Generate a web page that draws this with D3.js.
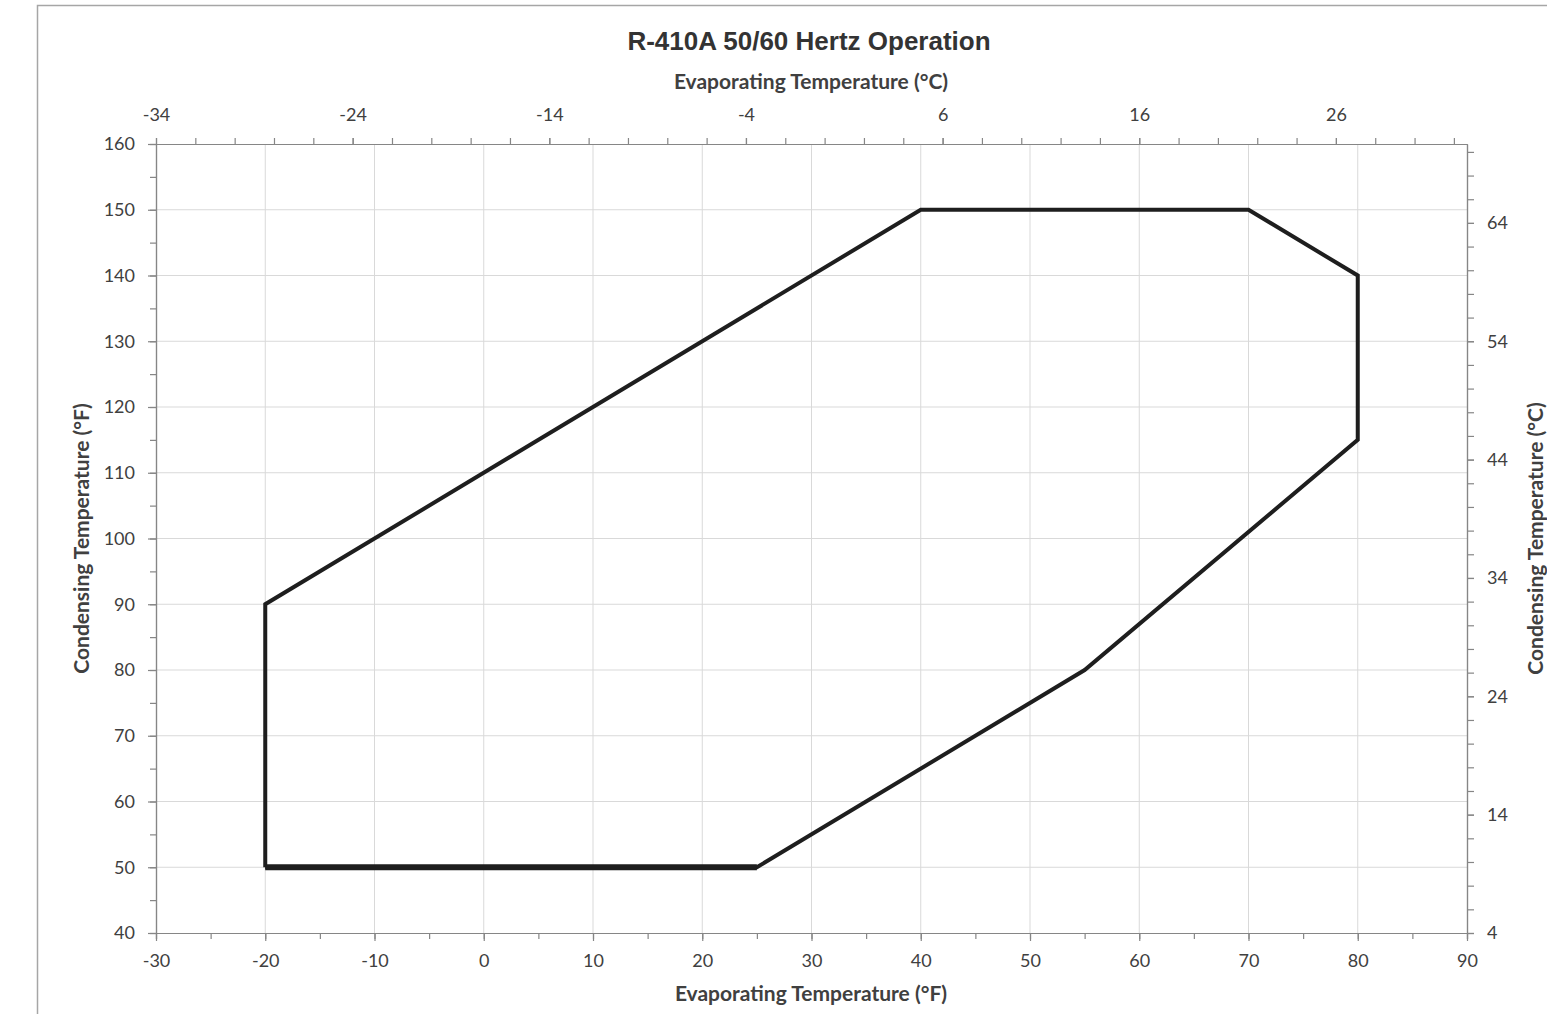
<!DOCTYPE html>
<html>
  <head>
    <meta charset="utf-8" />
    <script src="https://cdn.jsdelivr.net/npm/d3@7"></script>
    <style>
      body { margin: 0; background: #fff; }
      #master { width: 1547px; height: 1014px; }
      .grid line { stroke: #d9d9d9; stroke-width: 1; }
      .axis path, .axis line { stroke: #868686; stroke-width: 1.2; }
      .axis text { font-family: Lato, "Open Sans", sans-serif; font-size: 18px; fill: #404040; }
      .atitle { font-family: Lato, "Open Sans", sans-serif; font-size: 21px; font-weight: bold; fill: #404040; }
      .title { font-family: "Liberation Sans", Arial, sans-serif; font-size: 26px; font-weight: bold; fill: #333; }
    </style>
  </head>
  <body>
    <div id="master"></div>
    <script type="text/javascript">
var width = 1547, height = 1014;

// envelope corners, evaporating °F / condensing °F
var evapF = [-20, -20, 40, 70, 80, 80, 55, 25, -20];
var condF = [50, 90, 150, 150, 140, 115, 80, 50, 50];
// the floor at 50°F is drawn heavier in the original
var floorEvapF = [-20, 25];
var floorCondF = [50, 50];

var xTicksF = [-30, -20, -10, 0, 10, 20, 30, 40, 50, 60, 70, 80, 90];
var yTicksF = [40, 50, 60, 70, 80, 90, 100, 110, 120, 130, 140, 150, 160];
var xTicksC = [-34, -24, -14, -4, 6, 16, 26];
var yTicksC = [4, 14, 24, 34, 44, 54, 64];

// plot box (note: "top" is taken by window.top)
var pL = 156, pR = 1467, pT = 144, pB = 933;

var svg = d3.select("#master").append("svg")
  .attr("width", width)
  .attr("height", height);

// chart border
svg.append("path")
  .attr("d", "M37.5,1014 L37.5,5.5 L1547,5.5")
  .attr("fill", "none")
  .attr("stroke", "#a6a6a6")
  .attr("stroke-width", 1.5);

var x = d3.scaleLinear().domain([-30, 90]).range([pL, pR]);
var y = d3.scaleLinear().domain([40, 160]).range([pB, pT]);
// celsius axes cover the same span (120°F = 66.67°C), starting at -34 and 4
var xC = d3.scaleLinear().domain([-34, -34 + 120 * 5 / 9]).range([pL, pR]);
var yC = d3.scaleLinear().domain([4, 4 + 120 * 5 / 9]).range([pB, pT]);

var fmt = function(d) { return String(d); };  // plain hyphen minus like the original

var grid = svg.append("g").attr("class", "grid");
grid.selectAll(".v").data(xTicksF.slice(1, -1)).enter().append("line")
  .attr("x1", function(d) { return x(d); }).attr("x2", function(d) { return x(d); })
  .attr("y1", pT).attr("y2", pB);
grid.selectAll(".h").data(yTicksF.slice(1, -1)).enter().append("line")
  .attr("y1", function(d) { return y(d); }).attr("y2", function(d) { return y(d); })
  .attr("x1", pL).attr("x2", pR);

function minor(lo, hi, step) {
  var out = [];
  for (var v = lo; v <= hi + 1e-9; v += step) out.push(v);
  return out;
}

// minor ticks first, then labelled majors on top
svg.append("g").attr("class", "axis")
  .attr("transform", "translate(0," + pB + ")")
  .call(d3.axisBottom(x).tickValues(minor(-30, 90, 5)).tickSize(6).tickFormat(""));
svg.append("g").attr("class", "axis")
  .attr("transform", "translate(0," + pB + ")")
  .call(d3.axisBottom(x).tickValues(xTicksF).tickSize(8).tickPadding(13).tickSizeOuter(0).tickFormat(fmt));

svg.append("g").attr("class", "axis")
  .attr("transform", "translate(" + pL + ",0)")
  .call(d3.axisLeft(y).tickValues(minor(40, 160, 5)).tickSize(6).tickFormat(""));
svg.append("g").attr("class", "axis")
  .attr("transform", "translate(" + pL + ",0)")
  .call(d3.axisLeft(y).tickValues(yTicksF).tickSize(8).tickPadding(13).tickSizeOuter(0).tickFormat(fmt));

svg.append("g").attr("class", "axis")
  .attr("transform", "translate(0," + pT + ")")
  .call(d3.axisTop(xC).tickValues(minor(-34, 32, 2)).tickSize(6).tickSizeOuter(0).tickFormat(""));
svg.append("g").attr("class", "axis")
  .attr("transform", "translate(0," + pT + ")")
  .call(d3.axisTop(xC).tickValues(xTicksC).tickSize(6).tickPadding(17).tickSizeOuter(0).tickFormat(fmt));

svg.append("g").attr("class", "axis")
  .attr("transform", "translate(" + pR + ",0)")
  .call(d3.axisRight(yC).tickValues(minor(4, 70, 2)).tickSize(7).tickSizeOuter(0).tickFormat(""));
svg.append("g").attr("class", "axis")
  .attr("transform", "translate(" + pR + ",0)")
  .call(d3.axisRight(yC).tickValues(yTicksC).tickSize(7).tickPadding(13).tickSizeOuter(0).tickFormat(fmt));

var pts = evapF.map(function(d, i) { return [d, condF[i]]; });
var line = d3.line().x(function(d) { return x(d[0]); }).y(function(d) { return y(d[1]); });

svg.append("path")
  .datum(pts)
  .attr("d", line)
  .attr("fill", "none")
  .attr("stroke", "#1e1e1e")
  .attr("stroke-width", 4)
  .attr("stroke-linejoin", "miter");

svg.append("path")
  .datum(floorEvapF.map(function(d, i) { return [d, floorCondF[i]]; }))
  .attr("d", line)
  .attr("fill", "none")
  .attr("stroke", "#1e1e1e")
  .attr("stroke-width", 6);

svg.append("text").attr("class", "title")
  .attr("x", 809).attr("y", 50).attr("text-anchor", "middle")
  .text("R-410A 50/60 Hertz Operation");

svg.append("text").attr("class", "atitle")
  .attr("x", 811).attr("y", 89).attr("text-anchor", "middle")
  .text("Evaporating Temperature (°C)");

svg.append("text").attr("class", "atitle")
  .attr("x", 811).attr("y", 1001).attr("text-anchor", "middle")
  .text("Evaporating Temperature (°F)");

svg.append("text").attr("class", "atitle")
  .attr("transform", "translate(89," + ((pT + pB) / 2) + ") rotate(-90)")
  .attr("text-anchor", "middle")
  .text("Condensing Temperature (°F)");

svg.append("text").attr("class", "atitle")
  .attr("transform", "translate(1543," + ((pT + pB) / 2) + ") rotate(-90)")
  .attr("text-anchor", "middle")
  .text("Condensing Temperature (°C)");
    </script>
  </body>
</html>
